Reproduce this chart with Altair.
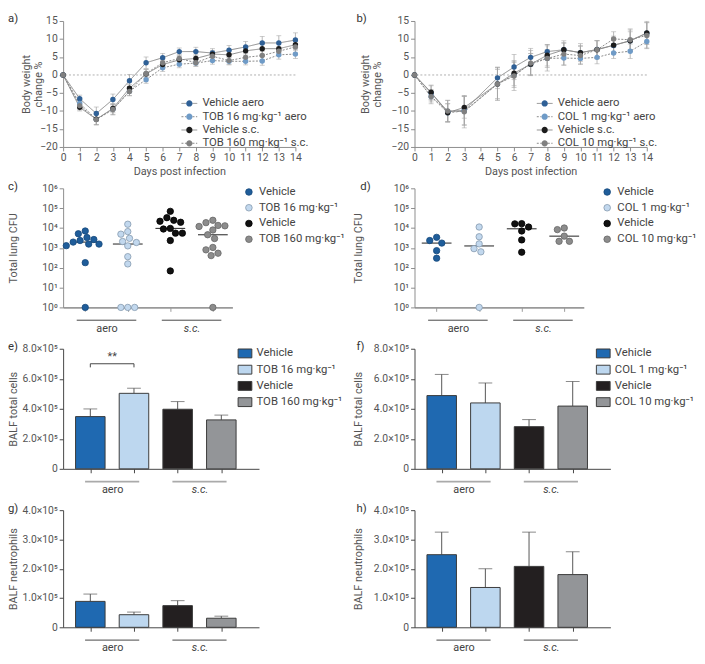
import math
import altair as alt
import numpy as np
import pandas as pd

FONT = "Roboto"
TEXT_C = "#555555"

# ---------------- data ----------------
days = list(range(15))

a_names = ["Vehicle aero", "TOB 16 mg·kg⁻¹ aero", "Vehicle s.c.", "TOB 160 mg·kg⁻¹ s.c."]
a_vehicle_aero = [0, -6.6, -10.7, -6.8, -1.6, 3.4, 4.8, 6.5, 6.5, 6.1, 6.9, 7.8, 8.9, 8.9, 9.7]
a_vehicle_aero_sem = [0, 1.0, 1.8, 1.5, 1.7, 1.6, 1.2, 1.0, 1.2, 1.2, 1.3, 1.5, 1.8, 2.0, 2.0]
a_tob16_aero = [0, -7.9, -12.3, -9.5, -4.5, -1.3, 2.0, 3.0, 3.3, 4.0, 3.8, 3.8, 3.9, 5.6, 5.8]
a_tob16_aero_sem = [0, 1.0, 1.5, 1.5, 1.2, 1.0, 1.0, 1.0, 0.8, 1.0, 1.0, 1.0, 1.2, 1.2, 1.2]
a_vehicle_sc = [0, -9.0, -12.3, -9.3, -3.7, 0.3, 2.9, 4.2, 4.6, 5.8, 5.6, 6.7, 7.3, 7.3, 8.4]
a_vehicle_sc_sem = [0, 1.0, 1.5, 1.2, 1.0, 1.2, 1.0, 1.0, 1.0, 1.0, 1.2, 1.2, 1.5, 1.5, 1.5]
a_tob160_sc = [0, -8.5, -12.4, -9.6, -4.6, 0.4, 3.4, 4.6, 3.4, 5.2, 4.0, 4.9, 5.4, 6.6, 7.8]
a_tob160_sc_sem = [0, 1.2, 1.5, 1.5, 1.2, 1.2, 1.0, 1.0, 1.0, 1.0, 1.0, 1.0, 1.2, 1.2, 1.5]

b_names = ["Vehicle aero", "COL 1 mg·kg⁻¹ aero", "Vehicle s.c.", "COL 10 mg·kg⁻¹ s.c."]
b_vehicle_aero = [0, -5.0, -10.1, -9.8, None, -0.8, 2.2, 4.9, 6.5, 7.0, 6.2, 7.1, 8.2, 9.5, 11.6]
b_vehicle_aero_sem = [0, 2.0, 3.0, 4.0, None, 3.0, 3.5, 2.5, 2.0, 2.0, 2.0, 2.5, 2.0, 2.5, 3.0]
b_col1_aero = [0, -6.0, -10.5, -10.0, None, -2.5, 0.0, 3.0, 4.6, 4.7, 4.6, 4.9, 6.1, 6.6, 9.3]
b_col1_aero_sem = [0, 1.5, 2.5, 4.0, None, 4.5, 3.5, 3.0, 2.5, 2.0, 1.5, 1.8, 1.5, 2.0, 2.0]
b_vehicle_sc = [0, -4.8, -10.5, -9.0, None, -2.5, 0.5, 3.0, 5.5, 7.0, 6.2, 7.0, 8.3, 9.5, 11.7]
b_vehicle_sc_sem = [0, 2.0, 2.5, 3.0, None, 4.0, 3.5, 3.0, 3.0, 2.5, 2.5, 2.5, 2.5, 3.0, 3.2]
b_col10_sc = [0, -6.0, -10.0, -10.2, None, -2.5, -0.3, 3.3, 4.6, 5.8, 5.4, 7.0, 10.0, 9.8, 11.0]
b_col10_sc_sem = [0, 2.0, 3.0, 4.5, None, 4.5, 4.0, 3.5, 3.5, 3.0, 2.5, 2.5, 2.0, 3.0, 3.5]

group_names = ["aero", "s.c."]
tob_names = ["Vehicle", "TOB 16 mg·kg⁻¹", "Vehicle\u200b", "TOB 160 mg·kg⁻¹"]
col_names = ["Vehicle", "COL 1 mg·kg⁻¹", "Vehicle\u200b", "COL 10 mg·kg⁻¹"]

# total lung CFU per animal (0 = below detection, drawn at 10^0)
c_vehicle_aero = [2340, 5130, 3310, 7080, 2630, 1950, 1550, 1290, 1550, 180, 0]
c_tob16_aero = [15500, 6600, 4900, 3020, 1860, 2090, 1260, 360, 155, 0, 0, 0]
c_vehicle_sc = [33100, 69200, 21900, 19500, 24500, 9550, 5500, 5500, 8900, 2340, 69]
c_tob160_sc = [12900, 24500, 18600, 13500, 7940, 12000, 4570, 2950, 1050, 794, 537, 407, 0]

d_vehicle_aero = [3390, 1740, 2340, 724, 302]
d_col1_aero = [11220, 3630, 1585, 912, 631, 0]
d_vehicle_sc = [16200, 16600, 11200, 7080, 2510, 603]
d_col10_sc = [10000, 8300, 3890, 2140, 2140]

# BALF cells: mean and SEM
e_mean = [3.48e5, 5.03e5, 3.97e5, 3.26e5]
e_sem = [0.51e5, 0.34e5, 0.51e5, 0.32e5]
e_sig = {"from": 0, "to": 1, "level": 7.0e5, "text": "**"}
f_mean = [4.88e5, 4.39e5, 2.81e5, 4.18e5]
f_sem = [1.41e5, 1.33e5, 0.47e5, 1.64e5]
g_mean = [0.885e5, 0.43e5, 0.74e5, 0.31e5]
g_sem = [0.25e5, 0.09e5, 0.17e5, 0.07e5]
h_mean = [2.48e5, 1.36e5, 2.08e5, 1.80e5]
h_sem = [0.77e5, 0.64e5, 1.17e5, 0.78e5]

# ---------------- styles ----------------
line_pt_colors = ["#2f6096", "#6f9bc7", "#1c1c1c", "#808080"]
dot_fill = ["#1f5d9a", "#c2d8ee", "#111111", "#8c8c8c"]
dot_stroke = ["#16497c", "#8499ae", "#000000", "#666666"]
bar_fill = ["#1f69b1", "#bdd7ef", "#231f20", "#939598"]

H_A, H_C, H_E, H_G = 128, 121, 122, 119
W_A, W_C, W_E = 236, 172, 199
ROW_GAP = 42
C_DOM = [-0.52, 3.46]
E_DOM = [-0.51, 3.75]
DIAM = 7.0
ZW = "\u200b\u200b"

LINE_ONLY_SYM = "M-2,0H-0.8M0.8,0H2"
DOT_SYM = "M0.8,0A0.8,0.8,0,1,1,-0.8,0A0.8,0.8,0,1,1,0.8,0Z"
RECT_SYM = "M-1.55,-1H1.55V1H-1.55Z"


def panel_title(letter, dx):
    return alt.TitleParams(text=letter, anchor="start", frame="group", orient="top",
                           dx=dx, offset=-15, baseline="middle", fontSize=11.5,
                           fontWeight="normal", font=FONT, color="#333333")


def weight_panel(names, vals_list, sem_list, letter, label_dx, title_x, legend_x):
    rows = []
    for name, vals, sems in zip(names, vals_list, sem_list):
        for d, v, e in zip(days, vals, sems):
            if v is None:
                continue
            rows.append({"day": d, "series": name, "series_l": name + ZW,
                         "value": v, "lo": v - e, "hi": v + e})
    df = pd.DataFrame(rows)
    xs = alt.Scale(domain=[0, 14], nice=False, zero=False)
    ys = alt.Scale(domain=[-20, 15], nice=False, zero=False)
    xaxis = alt.Axis(values=days, title="Days post infection", tickSize=4, labelPadding=2,
                     titlePadding=2, domainColor="#8c8c8c", tickColor="#8c8c8c")
    yaxis = alt.Axis(values=list(range(-20, 16, 5)), title=["Body weight", "change %"],
                     tickSize=4, labelPadding=2, titleX=title_x, titleY=H_A / 2,
                     titleAngle=270, titleBaseline="bottom", titleAlign="center",
                     titleLineHeight=12, domainColor="#8c8c8c", tickColor="#8c8c8c")

    def X(f):
        return alt.X(f, type="quantitative", scale=xs, axis=xaxis)

    def Y(f):
        return alt.Y(f, type="quantitative", scale=ys, axis=yaxis)

    leg_common = dict(title=None, orient="none", legendX=legend_x, legendY=78, symbolSize=64,
                      labelOffset=7.5, rowPadding=0.5, padding=0)
    base = alt.Chart(df)
    zero = alt.Chart(pd.DataFrame({"z": [0]})).mark_rule(
        color="#9a9a9a", strokeDash=[2, 2], strokeWidth=0.8).encode(y=Y("z"))
    err = base.transform_filter("datum.hi > datum.lo").mark_rule(
        color="#a5a5a5", strokeWidth=0.8).encode(x=X("day"), y=Y("lo"), y2="hi")
    caps = base.transform_filter("datum.hi > datum.lo").transform_fold(
        ["lo", "hi"], as_=["k", "v"]).mark_tick(
        orient="horizontal", size=5, thickness=0.8, color="#a5a5a5").encode(x=X("day"), y=Y("v:Q"))
    lines = base.mark_line(strokeWidth=1, color="#8a8a8a").encode(
        x=X("day"), y=Y("value"), detail="series:N",
        strokeDash=alt.StrokeDash("series_l:N", scale=alt.Scale(
            domain=[n + ZW for n in names], range=[[1, 0], [2, 1.5], [1, 0], [2, 1.5]]),
            legend=alt.Legend(symbolType=LINE_ONLY_SYM, symbolStrokeColor="#8a8a8a",
                              symbolStrokeWidth=1, labelOpacity=0, **leg_common)))
    pts = base.mark_circle(size=30, opacity=1).encode(
        x=X("day"), y=Y("value"),
        fill=alt.Fill("series:N", scale=alt.Scale(domain=names, range=line_pt_colors),
                      legend=alt.Legend(symbolType=DOT_SYM, symbolStrokeWidth=0, **leg_common)))
    return alt.layer(zero, err, caps, lines, pts).properties(
        width=W_A, height=H_A, title=panel_title(letter, label_dx))


def group_axis(dom_color, dom_width, tick_color):
    return alt.Axis(
        values=[0, 0.5, 1, 2, 2.5, 3], title=None, tickSize=4, labelPadding=11,
        labelExpr="datum.value == 0.5 ? 'aero' : (datum.value == 2.5 ? 's.c.' : '')",
        tickOpacity={"condition": {"test": "datum.value == 0.5 || datum.value == 2.5", "value": 0}, "value": 1},
        labelFontStyle={"condition": {"test": "datum.value == 2.5", "value": "italic"}, "value": "normal"},
        labelFontSize=11, labelColor="#444444", labelFlush=False, labelOverlap=False,
        domainColor=dom_color, domainWidth=dom_width, tickColor=tick_color)


def group_underline(X, height, color, width, pad):
    ul = pd.DataFrame({"g": group_names,
                       "x0": [2 * i - pad for i in range(len(group_names))],
                       "x1": [2 * i + 1 + pad for i in range(len(group_names))]})
    return alt.Chart(ul).mark_rule(color=color, strokeWidth=width).encode(
        x=X("x0"), x2="x1", y=alt.value(height + 13))


def beeswarm(logs, height_px, unit_px, diam):
    ypx = [lv / 6.0 * height_px for lv in logs]
    order = sorted(range(len(logs)), key=lambda i: -ypx[i])
    cands = sorted([k * diam / 4.0 for k in range(-20, 21)], key=lambda c: (abs(c), c))
    placed = []
    offs = [0.0] * len(logs)
    for i in order:
        for c in cands:
            if all((c - px) ** 2 + (ypx[i] - py) ** 2 >= (diam * 0.98) ** 2 for px, py in placed):
                placed.append((c, ypx[i]))
                offs[i] = c / unit_px
                break
    return offs


def sup(n):
    return "⁰¹²³⁴⁵⁶"[n]


def cfu_panel(names, groups, letter, label_dx, title_x, legend_x):
    unit = W_C / (C_DOM[1] - C_DOM[0])
    rows, meds = [], []
    for gi, (name, vals) in enumerate(zip(names, groups)):
        logs = [math.log10(v) if v > 1 else 0.0 for v in vals]
        offs = beeswarm(logs, H_C, unit, DIAM)
        for v, o in zip(vals, offs):
            rows.append({"series": name, "cfu": max(v, 1), "xpos": gi + o})
        meds.append({"series": name, "lo": gi - 0.35, "hi": gi + 0.35,
                     "median": max(float(np.median(vals)), 1)})
    df = pd.DataFrame(rows)
    md = pd.DataFrame(meds)
    xs = alt.Scale(domain=C_DOM, nice=False, zero=False)
    ys = alt.Scale(type="log", domain=[1, 1e6], nice=False)
    xaxis = group_axis("#9a9a9a", 1.8, "#9a9a9a")
    label_expr = "'10' + " + "".join(
        f"(datum.value >= {10 ** k} ? '{sup(k)}' : " for k in range(6, 0, -1)) + "'⁰'" + ")" * 6
    yaxis = alt.Axis(values=[10 ** k for k in range(7)], title="Total lung CFU", labelExpr=label_expr,
                     tickSize=4, labelPadding=2, titleX=title_x, titleY=H_C / 2, titleAngle=270,
                     titleBaseline="bottom", titleAlign="center",
                     domainColor="#8c8c8c", tickColor="#8c8c8c")

    def X(f):
        return alt.X(f, type="quantitative", scale=xs, axis=xaxis)

    def Y(f):
        return alt.Y(f, type="quantitative", scale=ys, axis=yaxis)

    legend = alt.Legend(title=None, orient="none", legendX=legend_x, legendY=-2,
                        symbolType="circle", symbolSize=45, symbolStrokeWidth=0.8,
                        labelOffset=4.5, rowPadding=3, padding=0)
    pts = alt.Chart(df).mark_circle(size=42, opacity=1, strokeWidth=0.8).encode(
        x=X("xpos"), y=Y("cfu"),
        fill=alt.Fill("series:N", scale=alt.Scale(domain=names, range=dot_fill), legend=legend),
        stroke=alt.Stroke("series:N", scale=alt.Scale(domain=names, range=dot_stroke), legend=legend))
    med = alt.Chart(md).mark_rule(color="#333333", strokeWidth=1.1).encode(
        x=X("lo"), x2="hi", y=Y("median"))
    ul = group_underline(X, H_C, "#444444", 1, 0.2)
    return alt.layer(med, pts, ul).properties(width=W_C, height=H_C, title=panel_title(letter, label_dx))


def bar_panel(names, means, sems, ymax, ytitle, letter, label_dx, title_x, legend_x, ul_style, show_legend, sig=None):
    H = H_E if ymax > 5e5 else H_G
    df = pd.DataFrame({"idx": list(range(4)), "series": names, "mean": means,
                       "top": [m + s for m, s in zip(means, sems)]})
    xs = alt.Scale(domain=E_DOM, nice=False, zero=False)
    ys = alt.Scale(domain=[0, ymax], nice=False)
    xaxis = group_axis("#444444", 1, "#444444")
    step = ymax / 4
    yaxis = alt.Axis(values=[step * k for k in range(5)], title=ytitle,
                     labelExpr="datum.value == 0 ? '0' : format(datum.value / 1e5, '.1f') + '×10⁵'",
                     tickSize=4, labelPadding=2, titleX=title_x, titleY=H / 2, titleAngle=270,
                     titleBaseline="bottom", titleAlign="center",
                     domainColor="#444444", tickColor="#444444")

    def X(f):
        return alt.X(f, type="quantitative", scale=xs, axis=xaxis)

    def Y(f):
        return alt.Y(f, type="quantitative", scale=ys, axis=yaxis)

    legend = None
    if show_legend:
        legend = alt.Legend(title=None, orient="none", legendX=legend_x, legendY=-1,
                            symbolType=RECT_SYM, symbolSize=81, labelOffset=6, rowPadding=2.5,
                            padding=0, symbolStrokeColor="#3a3a3a", symbolStrokeWidth=1)
    base = alt.Chart(df)
    err = base.mark_rule(color="#555555", strokeWidth=1).encode(x=X("idx"), y=Y("mean"), y2="top")
    cap = base.mark_tick(orient="horizontal", size=14, thickness=1, color="#555555").encode(
        x=X("idx"), y=Y("top"))
    bars = base.mark_bar(size=30, stroke="#3a3a3a", strokeWidth=1).encode(
        x=X("idx"), y=Y("mean"),
        fill=alt.Fill("series:N", scale=alt.Scale(domain=names, range=bar_fill), legend=legend))
    ul = group_underline(X, H, ul_style[0], ul_style[1], 0.12)
    layers = [err, cap, bars, ul]
    if sig is not None:
        sd = pd.DataFrame({"x0": [sig["from"]], "x1": [sig["to"]], "y": [sig["level"]],
                           "yd": [sig["level"] - ymax * 0.03], "xm": [(sig["from"] + sig["to"]) / 2],
                           "t": [sig["text"]]})
        sb = alt.Chart(sd)
        layers.append(sb.mark_rule(color="#444444", strokeWidth=1).encode(x=X("x0"), x2="x1", y=Y("y")))
        layers.append(sb.mark_rule(color="#444444", strokeWidth=1).encode(x=X("x0"), y=Y("y"), y2="yd"))
        layers.append(sb.mark_rule(color="#444444", strokeWidth=1).encode(x=X("x1"), y=Y("y"), y2="yd"))
        layers.append(sb.mark_text(dy=-7, fontSize=11, font=FONT, color="#444444").encode(
            x=X("xm"), y=Y("y"), text="t:N"))
    return alt.layer(*layers).properties(width=W_E, height=H, title=panel_title(letter, label_dx))


pa = weight_panel(a_names, [a_vehicle_aero, a_tob16_aero, a_vehicle_sc, a_tob160_sc],
                  [a_vehicle_aero_sem, a_tob16_aero_sem, a_vehicle_sc_sem, a_tob160_sc_sem],
                  "a)", -56, -32, 122.5)
pb = weight_panel(b_names, [b_vehicle_aero, b_col1_aero, b_vehicle_sc, b_col10_sc],
                  [b_vehicle_aero_sem, b_col1_aero_sem, b_vehicle_sc_sem, b_col10_sc_sem],
                  "b)", -59, -45, 126.5)
pc = cfu_panel(tob_names, [c_vehicle_aero, c_tob16_aero, c_vehicle_sc, c_tob160_sc], "c)", -56, -45, 183)
pd_ = cfu_panel(col_names, [d_vehicle_aero, d_col1_aero, d_vehicle_sc, d_col10_sc], "d)", -55, -52, 190)
pe = bar_panel(tob_names, e_mean, e_sem, 8e5, "BALF total cells", "e)", -56, -45, 179,
               ("#aaaaaa", 2), True, e_sig)
pf = bar_panel(col_names, f_mean, f_sem, 8e5, "BALF total cells", "f)", -59, -52, 186,
               ("#aaaaaa", 2), True)
pg = bar_panel(tob_names, g_mean, g_sem, 4e5, "BALF neutrophils", "g)", -56, -45, 179,
               ("#444444", 1), False)
ph = bar_panel(col_names, h_mean, h_sem, 4e5, "BALF neutrophils", "h)", -59, -52, 186,
               ("#444444", 1), False)

chart = alt.concat(pa, pb, pc, pd_, pe, pf, pg, ph, columns=2,
                   spacing={"row": ROW_GAP, "column": 121}, bounds="flush", align="each")
chart = chart.resolve_scale(fill="independent", stroke="independent", strokeDash="independent",
                            x="independent", y="independent")
chart = chart.resolve_legend(fill="independent", stroke="independent", strokeDash="independent")
chart = chart.properties(padding=0).configure_view(stroke=None).configure_axis(
    grid=False, labelFont=FONT, titleFont=FONT, labelColor=TEXT_C, titleColor=TEXT_C,
    labelFontSize=10.5, titleFontSize=11, titleFontWeight="normal", labelFlush=False,
    domainWidth=1, tickWidth=1).configure_legend(
    labelFont=FONT, labelFontSize=11.5, labelColor="#444444", labelLimit=200)

chart.save("out.html", embed_options={"renderer": "svg", "actions": False})
